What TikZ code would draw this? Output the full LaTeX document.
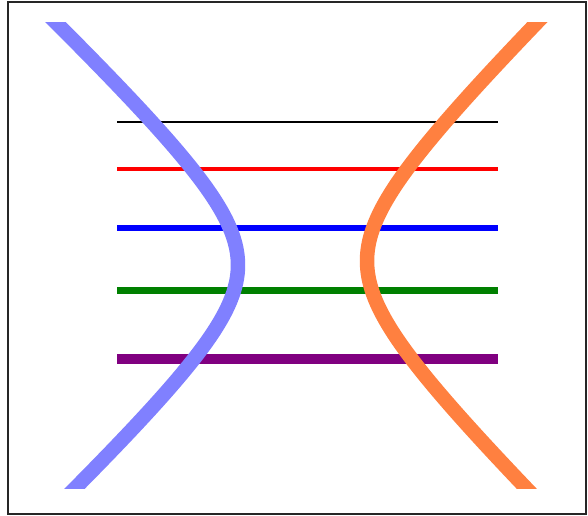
\documentclass[tikz,border=0pt]{standalone}
\begin{document}
\begin{tikzpicture}[x=1pt,y=-1pt,
  frame/.style={draw=black!85,line width=1.6pt},
  hline/.style={line cap=butt},
  curve/.style={line width=14.5pt,line join=round}]
\definecolor{curveblue}{RGB}{128,128,255}
\definecolor{curveorange}{RGB}{255,128,64}
\definecolor{lgreen}{RGB}{0,128,0}
\definecolor{lpurple}{RGB}{128,0,128}
\useasboundingbox (0,0) rectangle (588,515);
\fill[white] (0,0) rectangle (588,515);
\draw[frame] (8,2) rectangle (586,514);
% horizontal lines
\coordinate (k1) at (117,122); \coordinate (k2) at (498,122);
\coordinate (r1) at (117,169); \coordinate (r2) at (498,169);
\coordinate (b1) at (117,228); \coordinate (b2) at (498,228);
\coordinate (g1) at (117,290.5); \coordinate (g2) at (498,290.5);
\coordinate (p1) at (117,359); \coordinate (p2) at (498,359);
\draw[hline,black,line width=2pt] (k1) -- (k2);
\draw[hline,red,line width=4pt] (r1) -- (r2);
\draw[hline,blue,line width=5.5pt] (b1) -- (b2);
\draw[hline,lgreen,line width=7pt] (g1) -- (g2);
\draw[hline,lpurple,line width=10pt] (p1) -- (p2);
% hyperbola branches
\begin{scope}
\clip (0,22.5) rectangle (588,488.5);
\draw[curve,curveblue] plot[domain=-2.2:2.2,samples=120,smooth]
  ({328-90*cosh(\x)},{265+85*sinh(\x)});
\draw[curve,curveorange] plot[domain=-2.2:2.2,samples=120,smooth]
  ({277+90*cosh(\x)},{261+88*sinh(\x)});
\end{scope}
\end{tikzpicture}
\end{document}
